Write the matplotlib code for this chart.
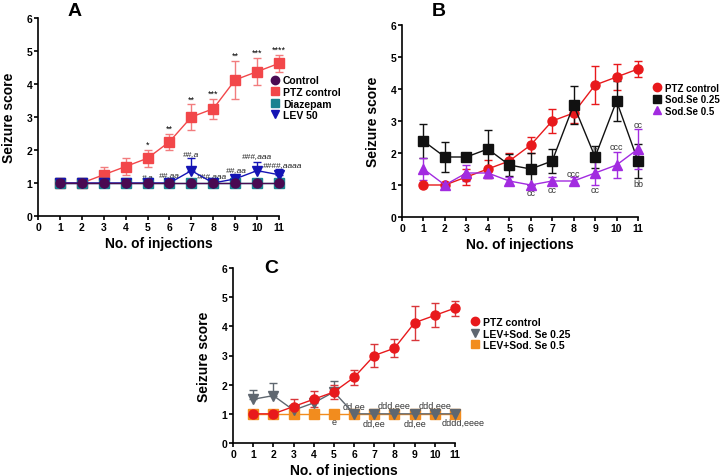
import matplotlib
matplotlib.use("Agg")
import matplotlib.pyplot as plt
from matplotlib.lines import Line2D
import numpy as np

plt.rcParams["font.family"] = ["Liberation Sans", "DejaVu Sans"]

inj = np.arange(1, 12)

# panel A
ctrl = [1, 1, 1, 1, 1, 1, 1, 1, 1, 1, 1]
ptz = [1, 1, 1.25, 1.5, 1.75, 2.25, 3, 3.25, 4.125, 4.375, 4.625]
ptz_err = [0, 0, 0.25, 0.27, 0.25, 0.25, 0.38, 0.31, 0.58, 0.41, 0.26]
diaz = [1, 1, 1, 1, 1, 1, 1, 1, 1, 1, 1]
lev = [1, 1, 1, 1, 1, 1, 1.375, 1, 1.125, 1.375, 1.25]
lev_err = [0, 0, 0, 0, 0, 0, 0.375, 0, 0.125, 0.26, 0.16]
stars = ["", "", "", "", "*", "**", "**", "***", "**", "***", "****"]
hash_lbl = ["#,a", "##,aa", "##,a", "###,aaa", "##,aa", "###,aaa", "####,aaaa"]
hash_x = [5, 6, 7, 7.95, 9.05, 10, 11.15]
hash_y = [1.21, 1.27, 1.9, 1.22, 1.42, 1.82, 1.55]

# panel B
se25 = [2.375, 1.875, 1.875, 2.125, 1.625, 1.5, 1.75, 3.5, 1.875, 3.625, 1.75]
se25_err = [0.54, 0.48, 0.08, 0.58, 0.35, 0.5, 0.37, 0.6, 0.35, 0.62, 0.53]
se5 = [1.5, 1, 1.375, 1.375, 1.125, 1, 1.125, 1.125, 1.375, 1.625, 2.125]
se5_err = [0.33, 0, 0.26, 0.16, 0.13, 0, 0.13, 0.13, 0.38, 0.42, 0.64]
b_lbl = ["cc", "cc", "ccc", "b", "cc", "ccc", "cc", "bb"]
b_x = [6, 7, 8, 9, 9, 10, 11, 11]
b_y = [0.78, 0.87, 1.37, 2.1, 0.85, 2.19, 2.88, 1.06]

# panel C
levse25 = [1.5, 1.625, 1.125, 1.375, 1.75, 1, 1, 1, 1, 1, 1]
levse25_err = [0.33, 0.42, 0.08, 0.18, 0.37, 0, 0, 0, 0, 0, 0]
levse5 = [1, 1, 1, 1, 1, 1, 1, 1, 1, 1, 1]
c_lbl = ["e", "dd,ee", "dd,ee", "ddd,eee", "dd,ee", "ddd,eee", "dddd,eeee"]
c_x = [5, 6, 7, 8, 9, 10, 11.4]
c_y = [0.72, 1.27, 0.68, 1.3, 0.68, 1.3, 0.72]

W, H = 721, 477
fig = plt.figure(figsize=(W / 100, H / 100), dpi=100)


def make_ax(x0, x1, y0, y1):
    ax = fig.add_axes([x0 / W, 1 - y1 / H, (x1 - x0) / W, (y1 - y0) / H])
    ax.set_xlim(0, 11)
    ax.set_ylim(0, 6)
    ax.set_xticks(range(0, 12))
    ax.set_yticks(range(0, 7))
    for s in ["top", "right"]:
        ax.spines[s].set_visible(False)
    for s in ["left", "bottom"]:
        ax.spines[s].set_linewidth(1.2)
    ax.tick_params(labelsize=7.5, width=1.2, length=3, pad=1)
    for t in ax.get_xticklabels() + ax.get_yticklabels():
        t.set_fontweight("bold")
    ax.set_ylabel("Seizure score", fontsize=10, fontweight="bold", labelpad=8)
    ax.set_xlabel("No. of injections", fontsize=10, fontweight="bold", labelpad=3)
    return ax


def series(ax, y, err, color, marker, ecolor=None, ms=6.5, lower=True):
    e = np.array(err)
    yerr = [e if lower else np.zeros_like(e), e]
    ax.errorbar(inj, y, yerr=yerr, color=color, marker=marker, ms=ms, lw=1,
                ecolor=ecolor or color, elinewidth=1, capsize=3,
                clip_on=False, zorder=3)


def legend(ax, entries, x, y, size=7.5):
    hs = [Line2D([], [], color=c, marker=m, ls="none", ms=6) for c, m, _ in entries]
    ax.legend(hs, [n for _, _, n in entries], loc="upper left", bbox_to_anchor=(x, y),
              frameon=False, handlelength=0.8, handletextpad=0.4, labelspacing=0.15,
              borderpad=0, borderaxespad=0, prop={"weight": "bold", "size": size})


# ---- A
axA = make_ax(38, 279, 19, 217)
series(axA, ptz, ptz_err, "#F2474A", "s", ecolor="#F27C7E")
series(axA, diaz, np.zeros(11), "#1A8290", "s")
series(axA, lev, lev_err, "#1414B4", "v", lower=False)
series(axA, ctrl, np.zeros(11), "#4A0A52", "o", ecolor="#9A7FA0")
for x, y, s in zip(inj, ptz, stars):
    if s:
        axA.text(x, y + ptz_err[x - 1] + 0.03, s, ha="center", va="bottom", fontsize=6.5)
for x, y, s in zip(hash_x, hash_y, hash_lbl):
    axA.text(x, y, s, ha="center", va="center", fontsize=6, style="italic", color="#222222")
legend(axA, [("#4A0A52", "o", "Control"), ("#F2474A", "s", "PTZ control"),
             ("#1A8290", "s", "Diazepam"), ("#1414B4", "v", "LEV 50")], 0.965, 0.71)
fig.text(75 / W, 1 - 11 / H, "A", fontsize=14, fontweight="bold", ha="center", va="center")

# ---- B
axB = make_ax(402, 638, 26, 218)
series(axB, ptz, ptz_err, "#E8191C", "o")
series(axB, se25, se25_err, "#111111", "s")
series(axB, se5, se5_err, "#A22BE0", "^")
for x, y, s in zip(b_x, b_y, b_lbl):
    axB.text(x, y, s, ha="center", va="center", fontsize=6.5, color="#333333")
legend(axB, [("#E8191C", "o", "PTZ control"), ("#111111", "s", "Sod.Se 0.25"),
             ("#A22BE0", "^", "Sod.Se 0.5")], 1.065, 0.70, size=7)
fig.text(439 / W, 1 - 11 / H, "B", fontsize=14, fontweight="bold", ha="center", va="center")

# ---- C
axC = make_ax(233, 455, 269, 444)
series(axC, levse5, np.zeros(11), "#F28C1E", "s")
series(axC, levse25, levse25_err, "#5F6770", "v", lower=False)
series(axC, ptz, ptz_err, "#E8191C", "o", ecolor="#D9363A")
for x, y, s in zip(c_x, c_y, c_lbl):
    axC.text(x, y, s, ha="center", va="center", fontsize=6.5, color="#333333")
legend(axC, [("#E8191C", "o", "PTZ control"), ("#5F6770", "v", "LEV+Sod. Se 0.25"),
             ("#F28C1E", "s", "LEV+Sod. Se 0.5")], 1.07, 0.72)
fig.text(271 / W, 1 - 269 / H, "C", fontsize=14, fontweight="bold", ha="center", va="center")

fig.savefig("out.png", dpi=100)
